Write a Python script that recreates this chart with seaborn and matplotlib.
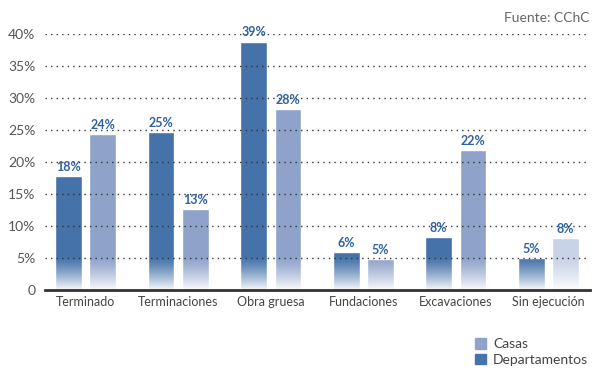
import numpy as np
import pandas as pd
import matplotlib
matplotlib.use("Agg")
import matplotlib.pyplot as plt
import seaborn as sns
from matplotlib.patches import Patch

categorias = ["Terminado", "Terminaciones", "Obra gruesa", "Fundaciones", "Excavaciones", "Sin ejecución"]
departamentos = [17.8, 24.7, 38.8, 5.9, 8.3, 5.0]
casas = [24.4, 12.7, 28.3, 4.8, 21.9, 8.1]
etiquetas_dep = ["18%", "25%", "39%", "6%", "8%", "5%"]
etiquetas_cas = ["24%", "13%", "28%", "5%", "22%", "8%"]
yticks = [0, 5, 10, 15, 20, 25, 30, 35, 40]
ytick_labels = ["0", "5%", "10%", "15%", "20%", "25%", "30%", "35%", "40%"]

col_dep = "#4472a9"
col_cas = "#8ea2ca"
col_pale = "#c9d3e7"
col_lbl = "#2d62a1"

df = pd.DataFrame({
    "cat": categorias * 2,
    "valor": departamentos + casas,
    "tipo": ["Departamentos"] * 6 + ["Casas"] * 6,
})

sns.set_style("white")
plt.rcParams["font.family"] = ["Lato", "DejaVu Sans"]

fig = plt.figure(figsize=(5.95, 3.71), dpi=100)
ax = fig.add_axes([45 / 595, 81 / 371, 545 / 595, 256 / 371])

sns.barplot(data=df, x="cat", y="valor", hue="tipo", order=categorias,
            hue_order=["Departamentos", "Casas"],
            palette={"Departamentos": col_dep, "Casas": col_cas},
            width=0.74, gap=0.22, saturation=1, legend=False, ax=ax, zorder=2)

# last Casas bar is paler in the reference
bars = ax.patches
bars[-1].set_facecolor(col_pale)

# labels over bars
for container, labs in zip(ax.containers, [etiquetas_dep, etiquetas_cas]):
    for rect, lab in zip(container, labs):
        ax.text(rect.get_x() + rect.get_width() / 2, rect.get_height() + 0.5, lab,
                ha="center", va="bottom", fontsize=9, fontweight="bold",
                color=col_lbl, zorder=5, clip_on=False)

ax.set_xlim(-0.44, 5.45)
ax.set_ylim(0, 40)

# white fade at bottom of the bars
grad = np.zeros((100, 2, 4))
grad[..., :3] = 1.0
grad[..., 3] = np.linspace(0.0, 0.97, 100)[:, None] ** 1.3
ax.imshow(grad, extent=[-0.44, 5.45, 0, 5.3], aspect="auto", origin="upper", zorder=3)

for y in yticks[1:]:
    ax.axhline(y, color="#333333", lw=1.0, ls=(0, (1, 3)), zorder=4)

ax.set_yticks(yticks)
ax.set_yticklabels(ytick_labels, fontsize=10, color="#555555")
ax.tick_params(axis="y", length=0, pad=7)
ax.tick_params(axis="x", length=0, pad=4, labelsize=9, labelcolor="#444444")
ax.set_xlabel("")
ax.set_ylabel("")
for s in ["top", "right", "left"]:
    ax.spines[s].set_visible(False)
ax.spines["bottom"].set_color("#333333")
ax.spines["bottom"].set_linewidth(2)
ax.spines["bottom"].set_zorder(6)

fig.text(590 / 595, 1 - 18 / 371, "Fuente: CChC", ha="right", va="center",
         fontsize=10, color="#666666")

handles = [Patch(color=col_cas, label="Casas"), Patch(color=col_dep, label="Departamentos")]
fig.legend(handles=handles, loc="upper left", bbox_to_anchor=(468 / 595, 1 - 331 / 371),
           frameon=False, fontsize=10, handlelength=0.8, handleheight=0.8,
           handletextpad=0.5, labelspacing=0.25, borderpad=0, labelcolor="#444444")

fig.savefig("out.png", dpi=100)
